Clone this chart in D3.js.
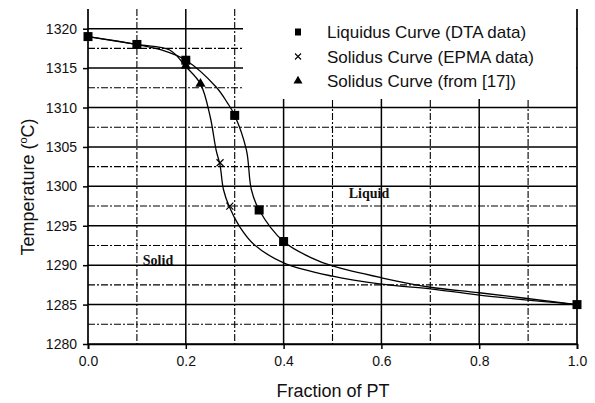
<!DOCTYPE html>
<html>
<head>
<meta charset="utf-8">
<script src="https://cdn.jsdelivr.net/npm/d3@7"></script>
<style>
  body { margin: 0; background: #fff; }
  text { font-family: Arial, "Liberation Sans", sans-serif; fill: #111; }
</style>
</head>
<body>
<script>
// marker data
const liquidusX = [0.0, 0.1, 0.2, 0.3, 0.35, 0.4, 1.0];
const liquidusT = [1319, 1318, 1316, 1309, 1297, 1293, 1285];
const epmaX = [0.27, 0.29];
const epmaT = [1303, 1297.5];
const refX = [0.2, 0.23];
const refT = [1315.3, 1313];

// traced curves
const liqCurveX = [0.0, 0.1, 0.15, 0.2, 0.262, 0.285, 0.3, 0.324, 0.334, 0.35, 0.4, 0.458, 0.5, 0.6, 0.7, 0.8, 1.0];
const liqCurveT = [1319, 1318, 1317.3, 1316, 1312.6, 1310.6, 1309, 1304.6, 1299.6, 1297, 1293, 1290.9, 1289.9, 1288.4, 1287.2, 1286.5, 1285];
const solCurveX = [0.0, 0.1, 0.167, 0.2, 0.23, 0.25, 0.262, 0.27, 0.277, 0.289, 0.31, 0.34, 0.4, 0.5, 0.6, 0.7, 0.8, 1.0];
const solCurveT = [1319, 1318, 1317.3, 1315.2, 1313, 1308.8, 1304.6, 1302.7, 1299.6, 1297.4, 1294.9, 1292.6, 1290.3, 1288.6, 1287.6, 1287.0, 1286.2, 1285];

const xTicks = [0, 0.2, 0.4, 0.6, 0.8, 1.0];
const xMinor = [0.1, 0.3, 0.5, 0.7, 0.9];
const yTicks = [1280, 1285, 1290, 1295, 1300, 1305, 1310, 1315, 1320];
const yMinor = [1282.5, 1287.5, 1292.5, 1297.5, 1302.5, 1307.5, 1312.5, 1317.5];
const legendLabels = ["Liquidus Curve (DTA data)", "Solidus Curve (EPMA data)", "Solidus Curve (from [17])"];

const W = 595, H = 403;
const svg = d3.select("body").append("svg").attr("width", W).attr("height", H);

const x = d3.scaleLinear().domain([0, 1]).range([88, 577]);
const y = d3.scaleLinear().domain([1280, 1322.5]).range([344, 9]);

// grid
const grid = svg.append("g");
grid.selectAll(".hmaj").data(yTicks).enter().append("line")
    .attr("x1", x(0)).attr("x2", x(1))
    .attr("y1", d => y(d)).attr("y2", d => y(d))
    .attr("stroke", "#000").attr("stroke-width", 1.5);
grid.selectAll(".hmin").data(yMinor).enter().append("line")
    .attr("x1", x(0)).attr("x2", x(1))
    .attr("y1", d => y(d)).attr("y2", d => y(d))
    .attr("stroke", "#000").attr("stroke-width", 1.1)
    .attr("stroke-dasharray", "7,2,2,2");
grid.selectAll(".vmaj").data(xTicks).enter().append("line")
    .attr("x1", d => x(d)).attr("x2", d => x(d))
    .attr("y1", y(1322.5)).attr("y2", y(1280))
    .attr("stroke", "#000").attr("stroke-width", d => (d === 0 || d === 1) ? 1.7 : 1.5);
grid.selectAll(".vmin").data(xMinor).enter().append("line")
    .attr("x1", d => x(d)).attr("x2", d => x(d))
    .attr("y1", y(1322.5)).attr("y2", y(1280))
    .attr("stroke", "#000").attr("stroke-width", 1.1)
    .attr("stroke-dasharray", "7,2,2,2");

// legend box covers the grid
svg.append("rect")
    .attr("x", 243).attr("y", 0)
    .attr("width", x(1) - 244).attr("height", 99)
    .attr("fill", "#fff");

// axes
const xAxis = d3.axisBottom(x).tickValues(xTicks).tickFormat(d3.format(".1f")).tickSize(5).tickPadding(7);
const gx = svg.append("g").attr("transform", `translate(0,${y(1280)})`).call(xAxis);
gx.select(".domain").attr("stroke-width", 1.7);
gx.selectAll(".tick line").attr("stroke-width", 1.5);
gx.selectAll("text").style("font-size", "14px").style("font-family", "Arial, 'Liberation Sans', sans-serif");

const yAxis = d3.axisLeft(y).tickValues(yTicks).tickFormat(d3.format("d")).tickSize(5).tickPadding(6);
const gy = svg.append("g").attr("transform", `translate(${x(0)},0)`).call(yAxis);
gy.select(".domain").remove();
gy.selectAll(".tick line").attr("stroke-width", 1.5);
gy.selectAll("text").style("font-size", "14px").style("font-family", "Arial, 'Liberation Sans', sans-serif");

// curves
const line = d3.line().x(d => x(d[0])).y(d => y(d[1])).curve(d3.curveCatmullRom.alpha(0.5));
svg.append("path")
    .datum(d3.zip(solCurveX, solCurveT))
    .attr("d", line).attr("fill", "none").attr("stroke", "#000").attr("stroke-width", 1.3);
svg.append("path")
    .datum(d3.zip(liqCurveX, liqCurveT))
    .attr("d", line).attr("fill", "none").attr("stroke", "#000").attr("stroke-width", 1.3);

// markers
const tri = d3.symbol().type(d3.symbolTriangle).size(45);
svg.selectAll(".tri").data(d3.zip(refX, refT)).enter().append("path")
    .attr("d", tri)
    .attr("transform", d => `translate(${x(d[0])},${y(d[1])})`)
    .attr("fill", "#000");
svg.selectAll(".cross").data(d3.zip(epmaX, epmaT)).enter().append("path")
    .attr("d", "M-3.5,-3.5L3.5,3.5M-3.5,3.5L3.5,-3.5")
    .attr("transform", d => `translate(${x(d[0])},${y(d[1])})`)
    .attr("stroke", "#000").attr("stroke-width", 1.2).attr("fill", "none");
svg.selectAll(".sq").data(d3.zip(liquidusX, liquidusT)).enter().append("rect")
    .attr("x", d => x(d[0]) - 4.5).attr("y", d => y(d[1]) - 4.5)
    .attr("width", 9).attr("height", 9)
    .attr("fill", "#000");

// region labels
svg.append("text").attr("x", 369).attr("y", 198).attr("text-anchor", "middle")
    .style("font-family", "'Liberation Serif', 'Times New Roman', serif")
    .style("font-weight", "bold").style("font-size", "14px").text("Liquid");
svg.append("text").attr("x", 158).attr("y", 265).attr("text-anchor", "middle")
    .style("font-family", "'Liberation Serif', 'Times New Roman', serif")
    .style("font-weight", "bold").style("font-size", "14px").text("Solid");

// legend
const leg = svg.append("g").selectAll("g").data(legendLabels).enter().append("g")
    .attr("transform", (d, i) => `translate(298,${32 + i * 24.5})`);
leg.append("path")
    .attr("d", (d, i) => i === 0 ? "M-3,-3.5h6v7h-6z"
        : i === 1 ? "M-3,-3L3,3M-3,3L3,-3"
        : d3.symbol().type(d3.symbolTriangle).size(35)())
    .attr("fill", (d, i) => i === 1 ? "none" : "#000")
    .attr("stroke", (d, i) => i === 1 ? "#000" : "none")
    .attr("stroke-width", 1.1);
leg.append("text").attr("x", 29).attr("y", 6)
    .style("font-size", "17px").text(d => d);

// axis titles
svg.append("text")
    .attr("x", 333).attr("y", 397).attr("text-anchor", "middle")
    .style("font-size", "18px").text("Fraction of PT");
const yt = svg.append("text")
    .attr("transform", `translate(34,187) rotate(-90)`)
    .attr("text-anchor", "middle")
    .style("font-size", "18px");
yt.append("tspan").text("Temperature (");
yt.append("tspan").attr("dy", -7).style("font-size", "11px").text("o");
yt.append("tspan").attr("dy", 7).text("C)");
</script>
</body>
</html>
